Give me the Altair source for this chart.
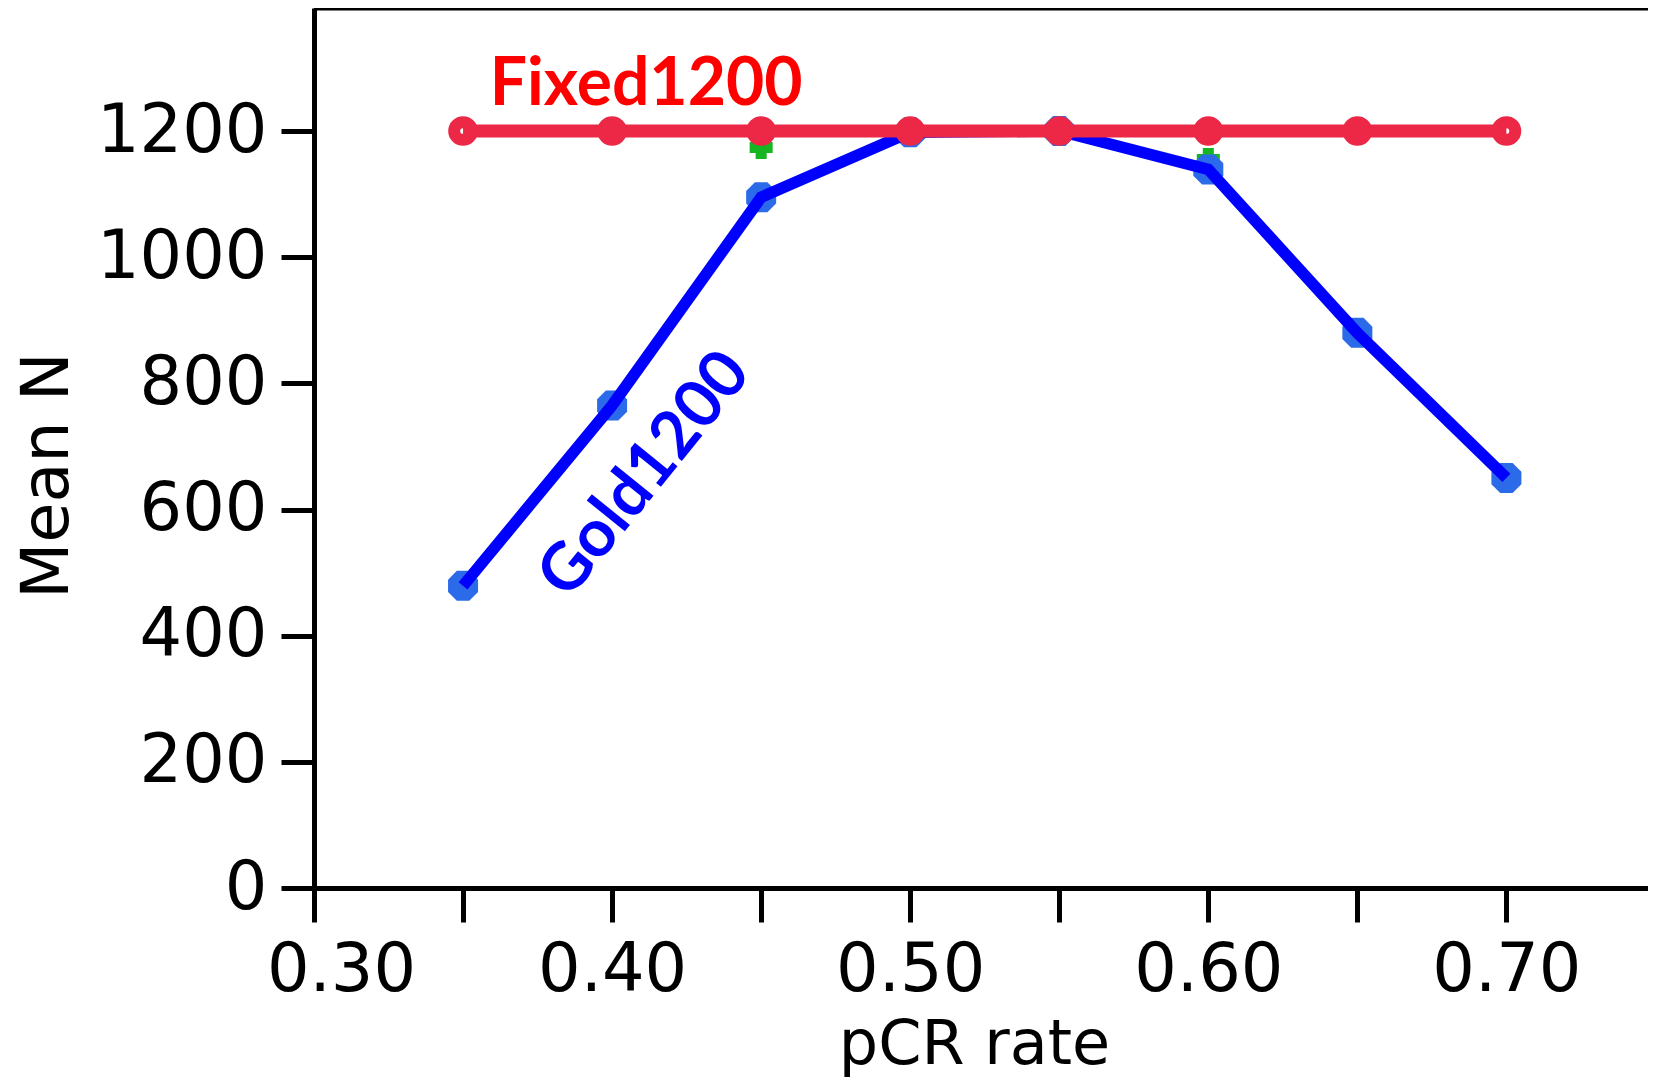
import altair as alt
import pandas as pd

# ---- data ----
pcr = [0.35, 0.40, 0.45, 0.50, 0.55, 0.60, 0.65, 0.70]
fixed1200 = [1200, 1200, 1200, 1200, 1200, 1200, 1200, 1200]
gold1200 = [479, 765, 1095, 1198, 1200, 1139, 880, 650]
green_x = [0.45, 0.60]
green_y = [1174, 1155]
x_ticks = [0.30, 0.35, 0.40, 0.45, 0.50, 0.55, 0.60, 0.65, 0.70]
y_ticks = [0, 200, 400, 600, 800, 1000, 1200]
labels = ["Fixed1200", "Gold1200"]
label_x = [0.4114, 0.411]
label_y = [1242, 655]

W, H = 1334, 880
FONT = "DejaVu Sans"
LW = 5

fixed_df = pd.DataFrame({"x": pcr, "y": fixed1200})
gold_df = pd.DataFrame({"x": pcr, "y": gold1200})
green_df = pd.DataFrame({"x": green_x, "y": green_y})
fixed_lab = pd.DataFrame({"x": [label_x[0]], "y": [label_y[0]], "t": [labels[0]]})
gold_lab = pd.DataFrame({"x": [label_x[1]], "y": [label_y[1]], "t": [labels[1]]})

X = alt.X(
    "x:Q",
    scale=alt.Scale(domain=[0.30, 0.7475], nice=False, zero=False),
    axis=alt.Axis(
        title="pCR rate",
        values=x_ticks,
        labelExpr="abs(datum.value*10 - round(datum.value*10)) < 0.001 ? format(datum.value, '.2f') : ''",
        labelOffset={"condition": {"test": "datum.value < 0.31", "value": 27}, "value": 0},
        grid=False,
        domainColor="black",
        domainWidth=LW,
        tickColor="black",
        tickWidth=LW,
        tickSize=34,
        labelFont=FONT,
        labelFontSize=67,
        labelColor="black",
        labelPadding=15,
        labelFlush=False,
        labelOverlap=False,
        titleFont=FONT,
        titleFontSize=62,
        titleFontWeight="normal",
        titleColor="black",
        titleX=660,
        titleY=175,
        titleBaseline="alphabetic",
        titleAnchor="start",
        titleAlign="center",
    ),
)
Y = alt.Y(
    "y:Q",
    scale=alt.Scale(domain=[0, 1395], nice=False, zero=True),
    axis=alt.Axis(
        title="Mean N",
        values=y_ticks,
        format="d",
        grid=False,
        domainColor="black",
        domainWidth=LW,
        tickColor="black",
        tickWidth=LW,
        tickSize=33,
        labelFont=FONT,
        labelFontSize=67,
        labelColor="black",
        labelPadding=14,
        labelFlush=False,
        labelOverlap=False,
        titleFont=FONT,
        titleFontSize=65,
        titleFontWeight="normal",
        titleColor="black",
        titleAngle=270,
        titleX=-247,
        titleY=467,
        titleBaseline="alphabetic",
        titleAlign="center",
        titleAnchor="start",
    ),
)

octagon = "M-0.414,-1L0.414,-1L1,-0.414L1,0.414L0.414,1L-0.414,1L-1,0.414L-1,-0.414Z"
plus = "M-0.48,-1H0.48V-0.48H1V0.48H0.48V1H-0.48V0.48H-1V-0.48H-0.48Z"

green = alt.Chart(green_df).mark_point(
    shape=plus, filled=True, color="#16B522", size=529, opacity=1
).encode(x=X, y=Y)

gold_pts = alt.Chart(gold_df).mark_point(
    shape=octagon, filled=True, color="#2B6BE9", size=900, opacity=1
).encode(x=X, y=Y)

gold_line = alt.Chart(gold_df).mark_line(
    color="#0000FF", strokeWidth=11.5
).encode(x=X, y=Y)

fixed_line = alt.Chart(fixed_df).mark_line(
    color="#EC2846", strokeWidth=13
).encode(x=X, y=Y)

fixed_pts = alt.Chart(fixed_df).mark_point(
    shape="circle", filled=False, color="#EC2846", size=314, strokeWidth=12, opacity=1
).encode(x=X, y=Y)

fixed_text = alt.Chart(fixed_lab).mark_text(
    font="Lato", fontWeight="bold", fontSize=66, color="#FF0000",
    align="center", baseline="alphabetic"
).encode(x=X, y=Y, text="t:N")

gold_text = alt.Chart(gold_lab).mark_text(
    font="Lato", fontWeight="bold", fontSize=66, color="#0000FF",
    align="center", baseline="middle", angle=309
).encode(x=X, y=Y, text="t:N")

top_border = alt.Chart(fixed_lab).mark_rule(
    color="black", strokeWidth=LW
).encode(x=alt.value(0), x2=alt.value(W), y=alt.value(0))

chart = alt.layer(
    green, gold_pts, gold_line, fixed_line, fixed_pts, fixed_text, gold_text, top_border
).properties(
    width=W,
    height=H,
    autosize=alt.AutoSizeParams(type="none"),
    padding={"left": 306, "top": 0, "right": 0, "bottom": 193},
    background="white",
).configure_view(stroke=None)

chart.save("out.html", embed_options={"renderer": "svg", "actions": False})
